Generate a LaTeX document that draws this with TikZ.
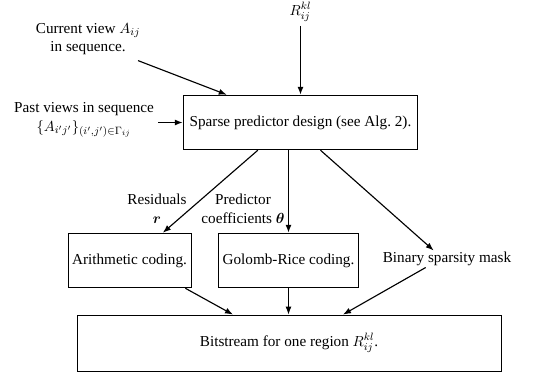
\documentclass[tikz,border=0pt]{standalone}
\usepackage{amsmath}
\usepackage{amsfonts}
\usepackage{fontspec}
\setmainfont{Liberation Serif}
\usepackage{tikz}
\usetikzlibrary{arrows.meta}

\tikzset{
  block/.style={draw, line width=0.6pt, minimum height=41pt, inner sep=3pt},
  flow/.style={-{Latex[length=6pt,width=4.5pt]}, line width=0.85pt},
  lbl/.style={align=center, inner sep=1pt}
}

\begin{document}
\begin{tikzpicture}[x=0.75pt,y=-0.75pt,font=\fontsize{11.4}{14}\selectfont]
        \useasboundingbox (0,0) rectangle (544,379);
        % Inputs to the predictor
        \node[lbl, inner sep=3pt] (region) at (300.5,12) {$R_{ij}^{kl}$};
        \node[lbl] (current) at (88,39) {Current view $A_{ij}$\\ in sequence.};
        \node[lbl] (past) at (84,120) {Past views in sequence\\ $\{A_{i'j'}\}_{(i',j')\in\Gamma_{ij}}$};
        \node[block, minimum width=176pt] (sparse) at (300.5,122.5) {Sparse predictor design (see Alg.~2).};

        % Coding stages
        \node[block, minimum width=91pt] (arith) at (129.5,260.5) {Arithmetic coding.};
        \node[block, minimum width=103pt] (golomb) at (288.5,260.5) {Golomb-Rice coding.};
        \node[lbl] (mask) at (447,259) {Binary sparsity mask};
        \node[block, minimum width=318pt, minimum height=42pt] (bits) at (289,343) {Bitstream for one region $R_{ij}^{kl}$.};

        % Labels on the outgoing arrows
        \node[lbl] (resid) at (157,209) {Residuals\\ $\boldsymbol{r}$};
        \node[lbl] (coeff) at (243,209) {Predictor\\ coefficients $\boldsymbol{\theta}$};

        \draw[flow] (region.south) -- (region.south |- sparse.north);
        \draw[flow] ([xshift=37.5pt,yshift=-3pt]current.south) -- ([xshift=33pt]sparse.north west);
        \draw[flow] ([xshift=2pt]past.east |- sparse.west) -- (sparse.west);

        \draw[flow] ([xshift=-32pt]sparse.south) -- ([xshift=25pt]arith.north);
        \draw[flow] (golomb.north |- sparse.south) -- (golomb.north);
        \draw[flow] ([xshift=15pt]sparse.south) -- ([xshift=-10pt]mask.north);

        \draw[flow] ([xshift=-4.5pt]arith.south east) -- ([xshift=-42pt]bits.north);
        \draw[flow] (golomb.south) -- (golomb.south |- bits.north);
        \draw[flow] ([xshift=-16pt]mask.south) -- ([xshift=40.5pt]bits.north);
    \end{tikzpicture}
\end{document}
